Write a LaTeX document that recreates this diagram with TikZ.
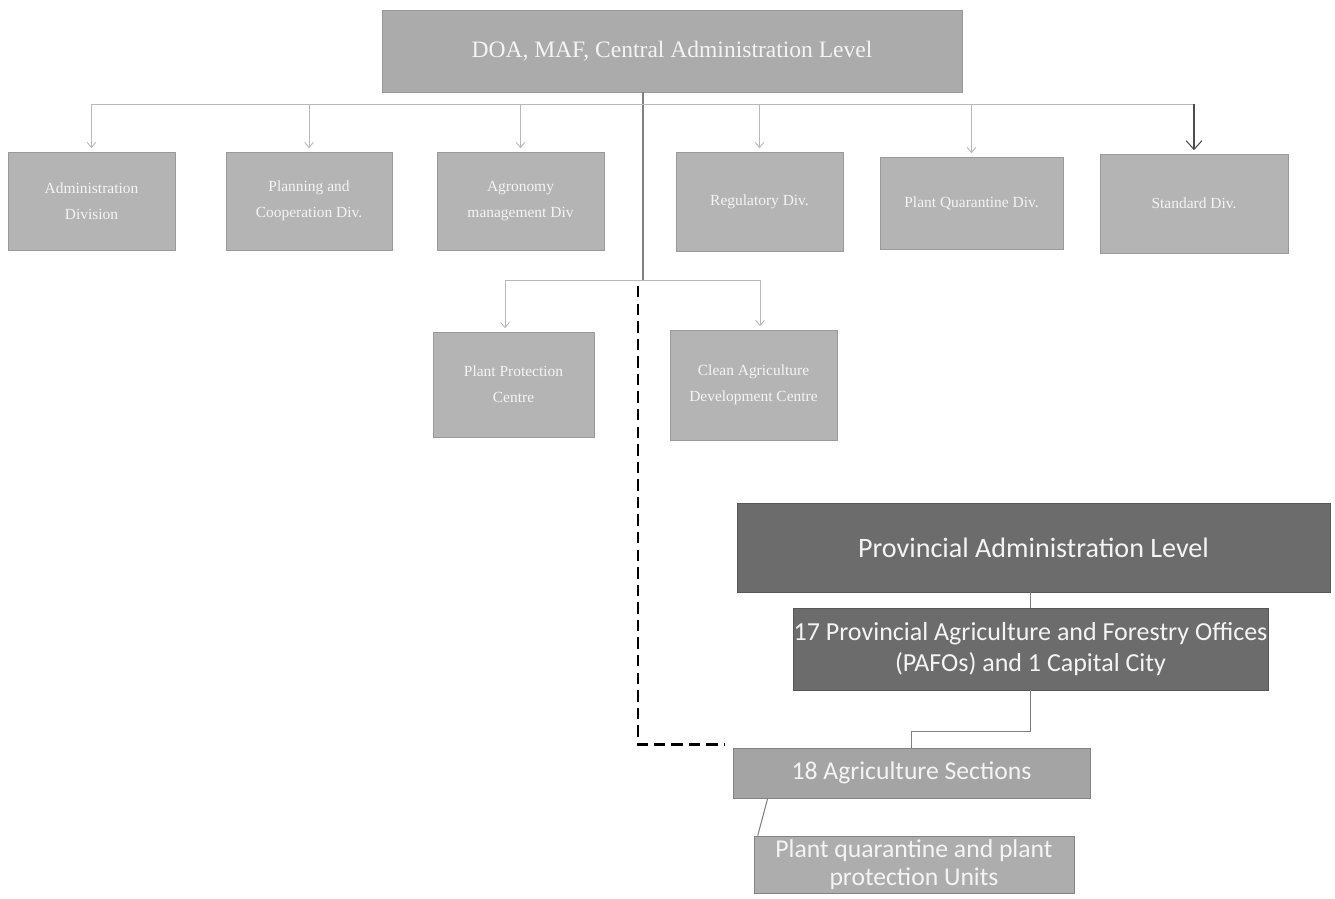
\documentclass[tikz,border=0pt]{standalone}
\usepackage{fontspec}
\newfontfamily\boxserif{Liberation Serif}
\newfontfamily\boxsans{Carlito}
\usetikzlibrary{arrows.meta, calc}
\definecolor{divgray}{HTML}{B4B4B4}
\definecolor{topgray}{HTML}{ABABAB}
\definecolor{provgray}{HTML}{6C6C6C}
\definecolor{secgray}{HTML}{A4A4A4}
\definecolor{linegray}{HTML}{B8B8B8}
\definecolor{txtwhite}{HTML}{F4F4F4}

\begin{document}
\begin{tikzpicture}[x=0.02cm, y=-0.02cm,
divbox/.style={fill=divgray, draw=divgray!85!black, line width=0.3pt, inner sep=0pt, align=center, text=txtwhite, font=\boxserif\fontsize{8.8}{14.7}\selectfont},
provbox/.style={fill=provgray, draw=provgray!80!black, line width=0.4pt, inner sep=0pt, align=center, text=txtwhite, font=\boxsans\fontsize{16}{19}\selectfont},
secbox/.style={fill=secgray, draw=secgray!80!black, line width=0.4pt, inner sep=0pt, align=center, text=txtwhite, font=\boxsans\fontsize{14.6}{16}\selectfont},
link/.style={draw=linegray, line width=0.5pt},
arr/.style={link, -{Straight Barb[length=3pt, width=5pt]}, shorten >=2pt}]
\useasboundingbox (0,0) rectangle (1335,899);
% central level
\node [divbox, fill=topgray, minimum width=11.6cm, minimum height=1.64cm, font=\boxserif\fontsize{13.4}{16}\selectfont] (doa) at (672,51) {DOA, MAF, Central Administration Level};
\node [divbox, minimum width=3.34cm, minimum height=1.96cm] (adm) at (91.5,201) {Administration\\Division};
\node [divbox, minimum width=3.32cm, minimum height=1.96cm] (plan) at (309,201) {Planning and\\Cooperation Div.};
\node [divbox, minimum width=3.34cm, minimum height=1.96cm] (agro) at (520.5,201) {Agronomy\\management Div};
\node [divbox, minimum width=3.34cm, minimum height=1.98cm] (reg) at (759.5,201.5) {Regulatory Div.};
\node [divbox, minimum width=3.66cm, minimum height=1.84cm] (pqd) at (971.5,203) {Plant Quarantine Div.};
\node [divbox, minimum width=3.76cm, minimum height=1.98cm] (std) at (1194,203.5) {Standard Div.};
\node [divbox, minimum width=3.22cm, minimum height=2.1cm] (ppc) at (513.5,384.5) {Plant Protection\\Centre};
\node [divbox, minimum width=3.34cm, minimum height=2.2cm] (cad) at (753.5,385) {Clean Agriculture\\Development Centre};
% provincial level
\node [provbox, minimum width=11.86cm, minimum height=1.78cm] (prov) at (1033.5,547.5) {Provincial Administration Level};
\node [provbox, minimum width=9.5cm, minimum height=1.64cm, font=\boxsans\fontsize{14.8}{17.5}\selectfont] (pafo) at (1030.5,649) {17 Provincial Agriculture and Forestry Offices\\(PAFOs) and 1 Capital City};
\node [secbox, minimum width=7.14cm, minimum height=1.0cm] (sec) at (911.5,773) {18 Agriculture Sections};
\node [secbox, fill=secgray!90!white, minimum width=6.4cm, minimum height=1.14cm] (unit) at (914,864.5) {Plant quarantine and plant\\protection Units};

\coordinate (bus) at (643,104);
\coordinate (hub) at (643,280);
\coordinate (dsh) at (638,286);
\coordinate (bw) at (505,280);
\coordinate (be) at (760,280);
\draw [draw=gray, line width=0.6pt] (doa.south -| bus) -- (hub);
\draw [link] (adm.north |- bus) -- (std.north |- bus);
\foreach \d in {adm, plan, agro, reg, pqd}
  \draw [arr] (\d.north |- bus) -- (\d.north);
\draw [draw=gray!60!black, line width=0.6pt, -{Straight Barb[length=5pt, width=9pt]}, shorten >=2pt] (std.north |- bus) -- (std.north);
\draw [link] (bw) -- (be);
\draw [arr] (bw) -- (bw |- ppc.north);
\draw [arr] (be) -- (be |- cad.north);
\draw [line width=1.5pt, dash pattern=on 6.5pt off 3.5pt] (dsh) |- ([xshift=-0.16cm, yshift=0.06cm]sec.north west);
\draw [draw=gray, line width=0.6pt] (pafo.north) -- (pafo.north |- prov.south);
\draw [draw=gray, line width=0.6pt] (pafo.south) -- ++(0,41) -| (sec.north);
\draw [draw=gray, line width=0.6pt] ([xshift=0.7cm]sec.south west) -- ([xshift=0.08cm]unit.north west);
\end{tikzpicture}
\end{document}
